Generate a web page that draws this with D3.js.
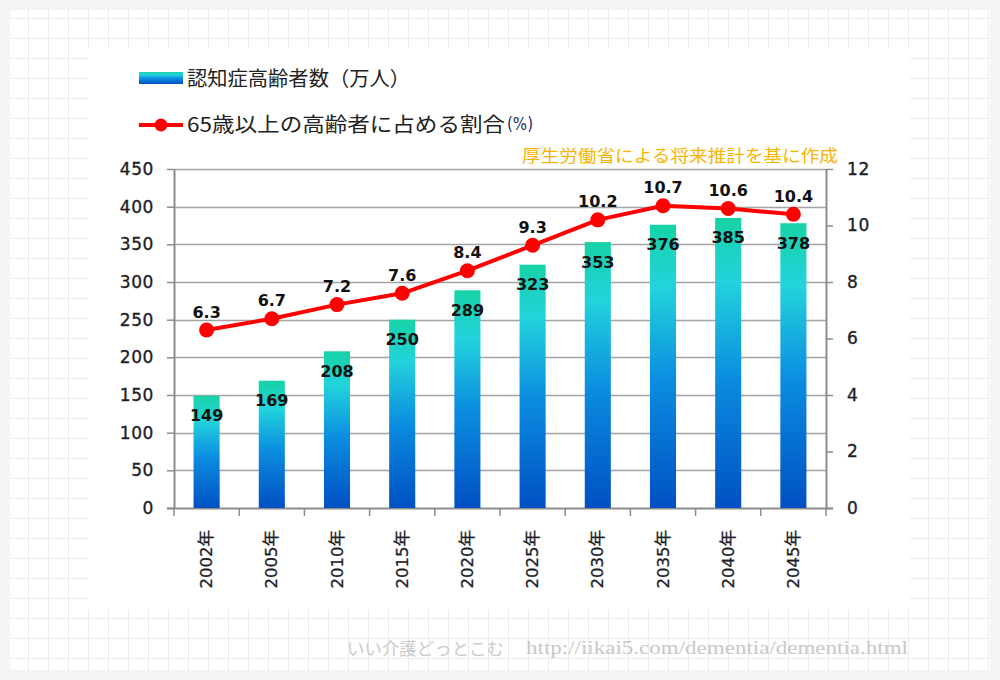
<!DOCTYPE html>
<html>
<head>
<meta charset="utf-8">
<script src="https://cdn.jsdelivr.net/npm/d3@7/dist/d3.min.js"></script>
<style>
  html, body { margin: 0; padding: 0; background: #f4f4f4; }
  svg { display: block; }
</style>
</head>
<body>
<svg id="chart" width="1000" height="680"></svg>
<script>
// ---- Data ----
const categories = ["2002年","2005年","2010年","2015年","2020年","2025年","2030年","2035年","2040年","2045年"];
const patients = [149, 169, 208, 250, 289, 323, 353, 376, 385, 378];   // 認知症高齢者数（万人）
const ratio = [6.3, 6.7, 7.2, 7.6, 8.4, 9.3, 10.2, 10.7, 10.6, 10.4]; // 65歳以上の高齢者に占める割合(%)
const leftTicks = [0, 50, 100, 150, 200, 250, 300, 350, 400, 450];
const rightTicks = [0, 2, 4, 6, 8, 10, 12];
const legendBar = "認知症高齢者数（万人）";
const legendLine = "65歳以上の高齢者に占める割合";
const legendUnit = "(%)";
const sourceNote = "厚生労働省による将来推計を基に作成";
const watermarkJa = "いい介護どっとこむ";
const watermarkUrl = "http://iikai5.com/dementia/dementia.html";

// ---- Setup ----
const svg = d3.select("#chart");
const W = 1000, H = 680;
const plot = { left: 174, right: 826, top: 169, bottom: 508 };
const jpFont = "'Noto Sans CJK JP', 'Noto Sans', sans-serif";
const numFont = "'DejaVu Sans', 'Noto Sans CJK JP', sans-serif";

// background
svg.append("rect").attr("width", W).attr("height", H).attr("fill", "#f4f4f4");
svg.append("rect").attr("x", 10).attr("y", 10).attr("width", 980).attr("height", 660).attr("fill", "#ffffff");
const bgGrid = svg.append("g").attr("stroke", "#ececec").attr("stroke-width", 1);
bgGrid.selectAll("line.v").data(d3.range(28, 990, 20)).join("line")
  .attr("x1", d => d + 0.5).attr("x2", d => d + 0.5).attr("y1", 10).attr("y2", 670);
bgGrid.selectAll("line.h").data(d3.range(18, 670, 20)).join("line")
  .attr("y1", d => d + 0.5).attr("y2", d => d + 0.5).attr("x1", 10).attr("x2", 990);
// white chart panel
svg.append("rect").attr("x", 88).attr("y", 48).attr("width", 822).attr("height", 562).attr("fill", "#ffffff");

// gradient
const defs = svg.append("defs");
const grad = defs.append("linearGradient").attr("id", "barGrad")
  .attr("x1", 0).attr("y1", 0).attr("x2", 0).attr("y2", 1);
grad.append("stop").attr("offset", "0%").attr("stop-color", "#16d2a6");
grad.append("stop").attr("offset", "22%").attr("stop-color", "#22d3dc");
grad.append("stop").attr("offset", "55%").attr("stop-color", "#0b8de0");
grad.append("stop").attr("offset", "100%").attr("stop-color", "#0050c2");

// scales
const xCat = d3.scaleBand().domain(categories).range([plot.left, plot.right]).padding(0);
const xBar = d3.scaleBand().domain(categories).range([plot.left, plot.right])
  .paddingInner(0.6).paddingOuter(0.3);
const yL = d3.scaleLinear().domain([0, 450]).range([plot.bottom, plot.top]);
const yR = d3.scaleLinear().domain([0, 12]).range([plot.bottom, plot.top]);

// horizontal gridlines
svg.append("g").selectAll("line").data(leftTicks.filter(d => d > 0)).join("line")
  .attr("x1", plot.left).attr("x2", plot.right)
  .attr("y1", d => Math.round(yL(d)) + 0.5).attr("y2", d => Math.round(yL(d)) + 0.5)
  .attr("stroke", "#a3a3a3").attr("stroke-width", 1.3);

// left axis
const axL = svg.append("g").attr("transform", `translate(${plot.left},0)`)
  .call(d3.axisLeft(yL).tickValues(leftTicks).tickSize(7).tickPadding(13).tickSizeOuter(0));
// right axis
const axR = svg.append("g").attr("transform", `translate(${plot.right},0)`)
  .call(d3.axisRight(yR).tickValues(rightTicks).tickSize(7).tickPadding(14).tickSizeOuter(0));
[axL, axR].forEach(ax => {
  ax.select(".domain").attr("stroke", "#8c8c8c").attr("stroke-width", 2);
  ax.selectAll(".tick line").attr("stroke", "#8c8c8c").attr("stroke-width", 1.5);
  ax.selectAll(".tick text").attr("font-family", numFont).attr("font-size", 17)
    .attr("fill", "#1e1e28").attr("stroke", "#1e1e28").attr("stroke-width", 0.35)
    .attr("letter-spacing", "0.6px");
});

// bottom axis
const axB = svg.append("g");
axB.append("line").attr("x1", plot.left - 7).attr("x2", plot.right + 7)
  .attr("y1", plot.bottom + 0.5).attr("y2", plot.bottom + 0.5)
  .attr("stroke", "#8c8c8c").attr("stroke-width", 2);
const bounds = categories.map(c => xCat(c)).concat([xCat(categories[categories.length - 1]) + xCat.bandwidth()]);
axB.selectAll("line.tk").data(bounds).join("line").attr("class", "tk")
  .attr("x1", d => d).attr("x2", d => d).attr("y1", plot.bottom).attr("y2", plot.bottom + 8)
  .attr("stroke", "#8c8c8c").attr("stroke-width", 1.5);
axB.selectAll("text").data(categories).join("text")
  .attr("transform", d => `translate(${xCat(d) + xCat.bandwidth() / 2},${plot.bottom + 22}) rotate(-90)`)
  .attr("text-anchor", "end").attr("dominant-baseline", "central")
  .attr("font-family", numFont).attr("font-size", 16.5).attr("fill", "#1e1e28")
  .attr("stroke", "#1e1e28").attr("stroke-width", 0.3)
  .text(d => d);

// bars
svg.append("g").selectAll("rect").data(categories).join("rect")
  .attr("x", d => xBar(d)).attr("width", xBar.bandwidth())
  .attr("y", (d, i) => yL(patients[i]))
  .attr("height", (d, i) => yL(0) - yL(patients[i]))
  .attr("fill", "url(#barGrad)");

// line
const line = d3.line().x((d, i) => xCat(categories[i]) + xCat.bandwidth() / 2).y(d => yR(d));
svg.append("path").datum(ratio).attr("d", line)
  .attr("fill", "none").attr("stroke", "#ff0000").attr("stroke-width", 4).attr("stroke-linejoin", "round");
svg.append("g").selectAll("circle").data(ratio).join("circle")
  .attr("cx", (d, i) => xCat(categories[i]) + xCat.bandwidth() / 2)
  .attr("cy", d => yR(d)).attr("r", 7.5).attr("fill", "#ff0000");

// bar labels
svg.append("g").selectAll("text").data(patients).join("text")
  .attr("x", (d, i) => xCat(categories[i]) + xCat.bandwidth() / 2)
  .attr("y", d => yL(d) + 20)
  .attr("text-anchor", "middle").attr("dominant-baseline", "central")
  .attr("font-family", numFont).attr("font-weight", "bold").attr("font-size", 16).attr("fill", "#111")
  .text(d => d);

// line labels
svg.append("g").selectAll("text").data(ratio).join("text")
  .attr("x", (d, i) => xCat(categories[i]) + xCat.bandwidth() / 2)
  .attr("y", d => yR(d) - 18)
  .attr("text-anchor", "middle").attr("dominant-baseline", "central")
  .attr("font-family", numFont).attr("font-weight", "bold").attr("font-size", 16).attr("fill", "#111")
  .text(d => d.toFixed(1));

// legend
const lg = svg.append("g");
lg.append("rect").attr("x", 139).attr("y", 72).attr("width", 44).attr("height", 12).attr("fill", "url(#barGrad)");
lg.append("text").attr("x", 187).attr("y", 77).attr("dominant-baseline", "central")
  .attr("font-family", jpFont).attr("font-size", 20).attr("fill", "#222")
  .attr("textLength", 223).attr("lengthAdjust", "spacingAndGlyphs").text(legendBar);
lg.append("line").attr("x1", 139).attr("x2", 183).attr("y1", 125).attr("y2", 125)
  .attr("stroke", "#ff0000").attr("stroke-width", 4);
lg.append("circle").attr("cx", 161).attr("cy", 125).attr("r", 6.5).attr("fill", "#ff0000");
lg.append("text").attr("x", 187).attr("y", 123).attr("dominant-baseline", "central")
  .attr("font-family", jpFont).attr("font-size", 20).attr("fill", "#222")
  .attr("textLength", 318).attr("lengthAdjust", "spacingAndGlyphs").text(legendLine);
lg.append("text").attr("x", 507).attr("y", 124).attr("dominant-baseline", "central")
  .attr("font-family", "'DejaVu Sans Condensed', 'DejaVu Sans', sans-serif").attr("font-size", 17).attr("fill", "#24305e")
  .attr("textLength", 26).attr("lengthAdjust", "spacingAndGlyphs").text(legendUnit);

// source note
svg.append("text").attr("x", 522).attr("y", 154).attr("dominant-baseline", "central")
  .attr("font-family", jpFont).attr("font-size", 17).attr("fill", "#fbb300")
  .attr("textLength", 316).attr("lengthAdjust", "spacingAndGlyphs").text(sourceNote);

// watermark
svg.append("text").attr("x", 347).attr("y", 647).attr("dominant-baseline", "central")
  .attr("font-family", jpFont).attr("font-size", 17).attr("fill", "#cbcbcb")
  .attr("textLength", 157).attr("lengthAdjust", "spacingAndGlyphs").text(watermarkJa);
svg.append("text").attr("x", 526).attr("y", 647).attr("dominant-baseline", "central")
  .attr("font-family", "'Liberation Serif', 'DejaVu Serif', serif").attr("font-size", 19).attr("fill", "#c8c8c8")
  .attr("textLength", 382).attr("lengthAdjust", "spacingAndGlyphs").text(watermarkUrl);
</script>
</body>
</html>
